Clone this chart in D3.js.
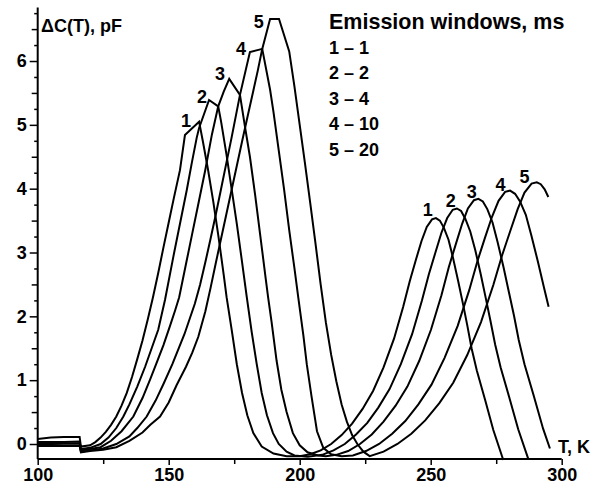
<!DOCTYPE html>
<html><head><meta charset="utf-8">
<script src="https://cdn.jsdelivr.net/npm/d3@7"></script>
<style>
body{margin:0;background:#fff}
svg{display:block}
text{font-family:"Liberation Sans",Arial,sans-serif;font-weight:bold;fill:#000}
</style>
</head><body><svg id="c" width="595" height="485"></svg>
<script>
const xTicks=[100,150,200,250,300];
const xMinor=[125,175,225,275];
const yTicks=[0,1,2,3,4,5,6];
const yHalf=[0.5,1.5,2.5,3.5,4.5,5.5,6.5];
const yQuarter=[0.25,0.75,1.25,1.75,2.25,2.75,3.25,3.75,4.25,4.75,5.25,5.75,6.25,6.75];
const curveIds=["1","2","3","4","5"];
const windowsMs=[1,2,4,10,20];
const legendTitle="Emission windows, ms";
const yLabel="ΔC(T), pF";
const xLabel="T, K";
// label anchors in data units [T, value]
const lowPeakLabels=[[156.6,4.97],[162.7,5.34],[169.6,5.70],[177.6,6.09],[184.4,6.51]];
const highPeakLabels=[[248.9,3.57],[257.7,3.72],[265.7,3.85],[276.6,3.97],[285.8,4.09]];

const curve1=[[100,0.08],[105,0.10],[110,0.11],[116,0.11],[116.5,-0.04],[120,-0.02],[122,0.03],[124,0.10],[126,0.19],[128,0.30],[130,0.43],[132,0.60],[134,0.80],[136,1.05],[138,1.33],[140,1.62],[142,1.95],[144,2.30],[146,2.68],[148,3.08],[150,3.47],[152,3.86],[154.3,4.29],[156.2,4.84],[161.6,5.05],[163,4.75],[165,4.30],[167,3.80],[169,3.25],[171,2.65],[172.1,2.30],[174,1.80],[176,1.25],[178,0.80],[180,0.45],[182.3,0.17],[185.5,-0.04],[190,-0.15],[195,-0.19],[200,-0.19],[204,-0.16],[208,-0.10],[212,0.00],[216,0.14],[220,0.32],[224,0.55],[228,0.83],[232,1.20],[236,1.65],[239.5,2.15],[242,2.55],[244.3,2.88],[246.5,3.18],[248.5,3.40],[250.5,3.52],[252,3.54],[253.5,3.50],[255,3.39],[256.8,3.20],[258.5,2.92],[260.5,2.55],[262.4,2.18],[264,1.85],[265.6,1.50],[267.6,1.15],[270.7,0.70],[273.9,0.22],[277.7,-0.25]];
const curve2=[[100,0.03],[110,0.03],[116,0.04],[116.5,-0.08],[120,-0.06],[124,0.00],[127,0.10],[130,0.25],[132.7,0.43],[135,0.62],[138,0.90],[141,1.21],[143.5,1.50],[146,1.79],[148.6,2.26],[151.8,2.94],[154.3,3.45],[156.9,3.98],[158.8,4.40],[160.7,4.80],[161.6,4.95],[165.4,5.39],[168.9,5.29],[170,5.05],[172,4.55],[174,4.00],[176,3.45],[178,2.85],[179.8,2.30],[181.7,1.75],[183.6,1.25],[185.5,0.80],[187.5,0.45],[189.8,0.17],[192,0.00],[195,-0.12],[198,-0.18],[203,-0.20],[208.6,-0.17],[212.9,-0.10],[217.2,0.00],[221.5,0.15],[225.8,0.33],[230,0.57],[234.3,0.86],[238.6,1.25],[242.9,1.72],[246.6,2.24],[249.3,2.66],[251.8,3.00],[254.1,3.31],[256.3,3.54],[258.4,3.67],[260,3.69],[261.6,3.65],[263.2,3.53],[265.1,3.33],[267,3.04],[269.1,2.66],[271.1,2.27],[272.8,1.93],[274.6,1.56],[276.7,1.20],[280,0.73],[283.4,0.23],[287.3,-0.24]];
const curve3=[[100,0.00],[110,0.01],[116,0.01],[116.5,-0.10],[120,-0.08],[124,-0.05],[128,0.05],[132,0.20],[136.5,0.43],[140,0.72],[143,1.02],[145.2,1.25],[148,1.55],[150.5,1.85],[152.5,2.10],[154,2.30],[156.5,2.80],[159,3.30],[161.5,3.80],[164,4.30],[166.5,4.85],[168.9,5.29],[171,5.52],[173.1,5.72],[177.2,5.47],[179,5.00],[181,4.50],[183,3.90],[185,3.25],[187,2.60],[188,2.28],[189.3,1.90],[191.2,1.30],[193,0.85],[195,0.50],[197.4,0.17],[200,-0.02],[203,-0.13],[207,-0.18],[210,-0.19],[214,-0.17],[218.5,-0.11],[223,0.00],[227.5,0.15],[232,0.35],[236.6,0.60],[241.1,0.90],[245.6,1.30],[250.1,1.79],[254.1,2.33],[256.9,2.77],[259.5,3.12],[262,3.45],[264.2,3.69],[266.5,3.82],[268.2,3.84],[269.9,3.80],[271.6,3.68],[273.6,3.47],[275.5,3.17],[277.8,2.77],[279.9,2.37],[281.8,2.01],[283.6,1.63],[285.8,1.25],[289.3,0.76],[292.9,0.24],[295.5,-0.07]];
const curve4=[[100,-0.01],[110,-0.02],[116,-0.02],[116.5,-0.12],[120,-0.10],[125,-0.07],[130,0.00],[135,0.12],[138,0.25],[141.6,0.43],[145,0.68],[148,0.94],[151.4,1.25],[156,1.72],[160,2.20],[162,2.50],[164,2.85],[166,3.22],[168,3.60],[170,4.00],[172,4.40],[174,4.80],[177.2,5.47],[181,6.14],[185.7,6.19],[188.7,5.55],[190,5.20],[192,4.60],[194,4.00],[196,3.35],[198,2.75],[199.5,2.28],[201.4,1.70],[202.7,1.25],[204.5,0.75],[206.6,0.20],[209,-0.06],[212,-0.16],[216,-0.19],[220.3,-0.18],[225.3,-0.11],[230.3,0.00],[235.3,0.16],[240.3,0.36],[245.3,0.62],[250.3,0.93],[255.3,1.35],[260.3,1.85],[264.7,2.41],[267.8,2.86],[270.7,3.23],[273.4,3.56],[275.9,3.81],[278.4,3.95],[280.3,3.97],[282.2,3.92],[284.1,3.80],[286.3,3.59],[288.4,3.27],[290.9,2.86],[293.3,2.44],[295,2.15]];
const curve5=[[100,-0.03],[110,-0.03],[116,-0.03],[116.5,-0.13],[120,-0.11],[125,-0.09],[130,-0.05],[135,0.05],[140,0.18],[143,0.30],[146.7,0.43],[150,0.65],[153,0.92],[156.6,1.21],[159,1.43],[161.3,1.68],[164,2.08],[166,2.45],[168,2.84],[170,3.22],[172,3.60],[174,3.98],[176,4.36],[178,4.74],[180,5.11],[182,5.48],[184,5.85],[185.7,6.19],[188.7,6.66],[192.1,6.66],[196,6.15],[198,5.60],[200,5.00],[202,4.40],[204,3.78],[206,3.15],[208,2.50],[210,1.90],[212,1.40],[214,0.98],[216,0.62],[218,0.35],[220,0.14],[222,0.00],[224.3,-0.12],[226.7,-0.19],[232,-0.12],[237.3,0.00],[242.6,0.16],[247.9,0.37],[253.3,0.64],[258.6,0.96],[263.9,1.39],[269.2,1.91],[273.9,2.49],[277.2,2.95],[280.3,3.33],[283.2,3.68],[285.8,3.94],[288.5,4.08],[290.5,4.10],[292,4.07],[293.5,3.99],[294.9,3.87]];
const curves=[curve1,curve2,curve3,curve4,curve5];

const svg=d3.select("#c");
const x=d3.scaleLinear().domain([100,300]).range([37.7,561.7]);
const y=d3.scaleLinear().domain([-0.235,6.84]).range([459,7.4]);

// curves
const line=d3.line().x(d=>x(d[0])).y(d=>y(d[1]));
svg.append("g").selectAll("path").data(curves).join("path")
  .attr("d",line).attr("fill","none").attr("stroke","#000")
  .attr("stroke-width",2).attr("stroke-linejoin","miter");

// y axis
const yAxisX=x(100);
const gy=svg.append("g").attr("transform",`translate(${yAxisX},0)`);
gy.call(d3.axisLeft(y).tickValues(yTicks).tickSize(8).tickSizeOuter(0).tickPadding(3).tickFormat(d3.format("d")));
gy.call(g=>g.select(".domain").remove());
gy.append("g").call(d3.axisLeft(y).tickValues(yHalf).tickSize(6).tickFormat("")).call(g=>g.select(".domain").remove());
gy.append("g").call(d3.axisLeft(y).tickValues(yQuarter).tickSize(3.5).tickFormat("")).call(g=>g.select(".domain").remove());
gy.append("line").attr("x1",0).attr("x2",0).attr("y1",y(-0.235)).attr("y2",y(6.84)).attr("stroke","#000").attr("stroke-width",2);
gy.selectAll(".tick line").attr("stroke","#000").attr("stroke-width",1.5);
gy.selectAll("text").attr("font-size",18).attr("font-family",null);

// x axis
const xAxisY=y(-0.235);
const gx=svg.append("g").attr("transform",`translate(0,${xAxisY})`);
gx.call(d3.axisBottom(x).tickValues(xTicks).tickSize(6).tickSizeOuter(0).tickPadding(3).tickFormat(d3.format("d")));
gx.call(g=>g.select(".domain").remove());
gx.append("g").call(d3.axisBottom(x).tickValues(xMinor).tickSize(5).tickFormat("")).call(g=>g.select(".domain").remove());
gx.append("line").attr("x1",x(100)).attr("x2",x(300)).attr("y1",0).attr("y2",0).attr("stroke","#000").attr("stroke-width",2);
gx.selectAll(".tick line").attr("stroke","#000").attr("stroke-width",1.5);
gx.selectAll("text").attr("font-size",18).attr("font-family",null);
svg.selectAll(".tick text").style("font-family",'"Liberation Sans",Arial,sans-serif').style("font-weight","bold");

// axis titles
svg.append("text").attr("x",41).attr("y",32).attr("font-size",18).text(yLabel);
svg.append("text").attr("x",558).attr("y",453).attr("font-size",18).text(xLabel);

// peak labels
svg.append("g").selectAll("text").data(lowPeakLabels).join("text")
  .attr("x",d=>x(d[0])).attr("y",d=>y(d[1])).attr("text-anchor","middle").attr("font-size",18)
  .text((d,i)=>curveIds[i]);
svg.append("g").selectAll("text").data(highPeakLabels).join("text")
  .attr("x",d=>x(d[0])).attr("y",d=>y(d[1])).attr("text-anchor","middle").attr("font-size",18)
  .text((d,i)=>curveIds[i]);

// legend
const lg=svg.append("g").attr("transform","translate(329,0)");
lg.append("text").attr("x",0).attr("y",29).attr("font-size",21.5).text(legendTitle);
lg.selectAll("text.item").data(windowsMs).join("text").attr("class","item")
  .attr("x",0).attr("y",(d,i)=>54+i*25.4).attr("font-size",18)
  .text((d,i)=>`${curveIds[i]} – ${d}`);
</script>
</body></html>
